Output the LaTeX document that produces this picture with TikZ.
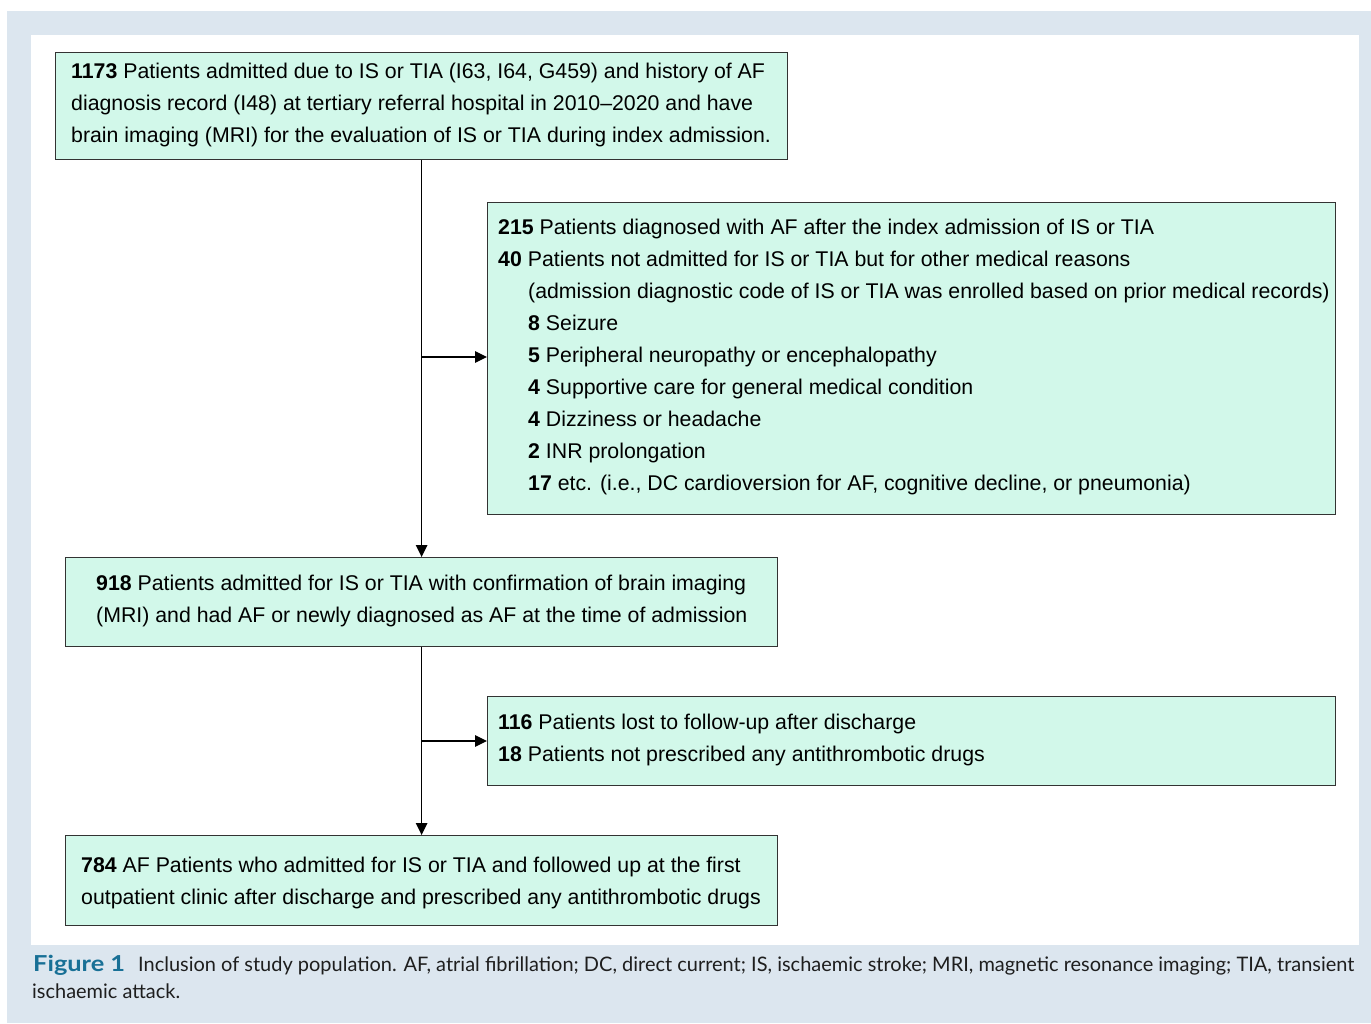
\documentclass[tikz,border=0pt]{standalone}
\usepackage{fontspec}
\usepackage{graphicx}
\setmainfont{Liberation Sans}
\newfontfamily\capfont{Lato}
\usetikzlibrary{arrows.meta}
\definecolor{mint}{HTML}{D2F8EA}
\definecolor{panel}{HTML}{DCE6EF}
\definecolor{figblue}{RGB}{24,112,150}
\definecolor{boxline}{HTML}{333333}
\definecolor{captext}{HTML}{1E1E1E}
\begin{document}
\begin{tikzpicture}[x=1pt,y=-1pt,
  box/.style={draw=boxline, fill=mint, line width=1.2pt, anchor=north west, inner sep=0pt},
  tl/.style={anchor=base west, inner sep=0pt, font=\fontsize{21.3}{24}\selectfont},
  conn/.style={line width=1.2pt, -{Triangle[length=12pt,width=11.5pt]}},
  captxt/.style={anchor=base west, inner sep=0pt, text=captext, font=\capfont\fontsize{20}{23}\selectfont}]
\useasboundingbox (0,0) rectangle (1371,1023);
\fill[panel] (7,11) rectangle (1371,1023);
\fill[white] (31,35) rectangle (1359,945);

% boxes
\node[box, minimum width=732pt, minimum height=107pt] (b1) at (55,52) {};
\node[box, minimum width=848pt, minimum height=312pt] (b2) at (487,202) {};
\node[box, minimum width=712pt, minimum height=89pt] (b3) at (65,557) {};
\node[box, minimum width=848pt, minimum height=89pt] (b4) at (487,696) {};
\node[box, minimum width=712pt, minimum height=90pt] (b5) at (65,835) {};

% box 1 text
\node[tl] (t11) at (71,78) {\textbf{1173} Patients admitted due to IS or TIA (I63, I64, G459) and history of AF};
\node[tl] (t12) at (71,110) {diagnosis record (I48) at tertiary referral hospital in 2010--2020 and have};
\node[tl] (t13) at (71,142) {brain imaging (MRI) for the evaluation of IS or TIA during index admission.};

% box 2 text
\node[tl] (t21) at (498,234) {\textbf{215} Patients diagnosed with AF after the index admission of IS or TIA};
\node[tl] (t22) at (498,266) {\textbf{40} Patients not admitted for IS or TIA but for other medical reasons};
\node[tl] (t23) at (528,298) {(admission diagnostic code of IS or TIA was enrolled based on prior medical records)};
\node[tl] (t24) at (528,330) {\textbf{8} Seizure};
\node[tl] (t25) at (528,362) {\textbf{5} Peripheral neuropathy or encephalopathy};
\node[tl] (t26) at (528,394) {\textbf{4} Supportive care for general medical condition};
\node[tl] (t27) at (528,426) {\textbf{4} Dizziness or headache};
\node[tl] (t28) at (528,458) {\textbf{2} INR prolongation};
\node[tl] (t29) at (528,490) {\textbf{17} etc. (i.e., DC cardioversion for AF, cognitive decline, or pneumonia)};

% box 3 text
\node[tl] (t31) at (96,590) {\textbf{918} Patients admitted for IS or TIA with confirmation of brain imaging};
\node[tl] (t32) at (96,622) {(MRI) and had AF or newly diagnosed as AF at the time of admission};

% box 4 text
\node[tl] (t41) at (498,729) {\textbf{116} Patients lost to follow-up after discharge};
\node[tl] (t42) at (498,761) {\textbf{18} Patients not prescribed any antithrombotic drugs};

% box 5 text
\node[tl] (t51) at (81,872) {\textbf{784} AF Patients who admitted for IS or TIA and followed up at the first};
\node[tl] (t52) at (81,904) {outpatient clinic after discharge and prescribed any antithrombotic drugs};

% connectors
\coordinate (j1) at (421,357);
\coordinate (j2) at (421,741);
\draw[conn] (b1.south) -- (b3.north);
\draw[conn] (j1) -- (j1 -| b2.west);
\draw[conn] (b3.south) -- (b5.north);
\draw[conn] (j2) -- (j2 -| b4.west);

% caption
\node[captxt, text=figblue, font=\capfont\fontsize{22}{23}\selectfont\bfseries] (fig) at (33,971) {\resizebox{92pt}{\height}{Figure 1}};
\node[captxt] (cap1) at (138,971) {\resizebox{1216pt}{\height}{Inclusion of study population. AF, atrial fibrillation; DC, direct current; IS, ischaemic stroke; MRI, magnetic resonance imaging; TIA, transient}};
\node[captxt] (cap2) at (32,998) {\resizebox{148pt}{\height}{ischaemic attack.}};
\end{tikzpicture}
\end{document}
